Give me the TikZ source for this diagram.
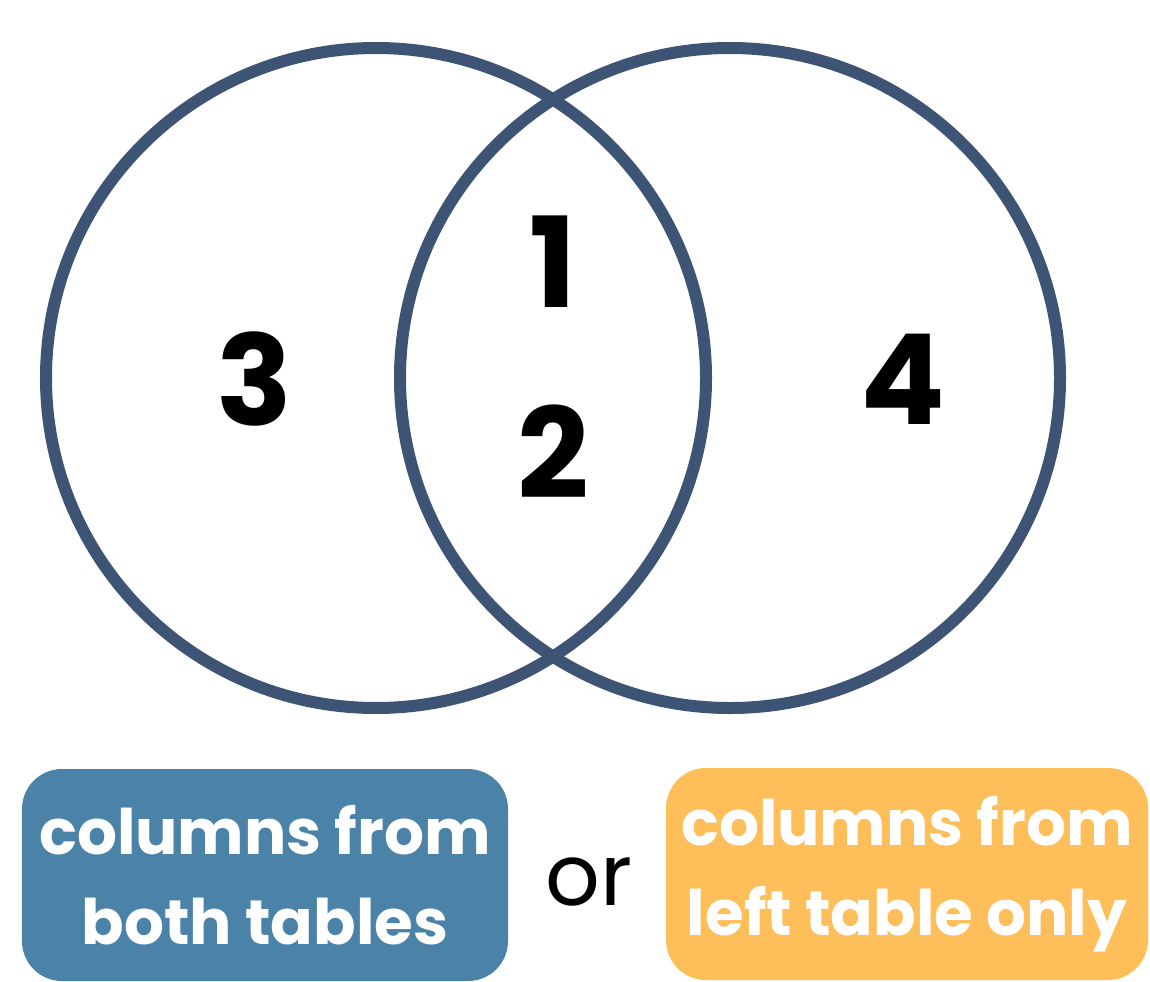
\documentclass[tikz,border=0pt]{standalone}
\usepackage{fontspec}
\setmainfont{Poppins}
\definecolor{ring}{HTML}{3E5475}
\definecolor{boxblue}{HTML}{4A82A8}
\definecolor{boxgold}{HTML}{FEBE5A}
\begin{document}
\begin{tikzpicture}[x=1bp,y=-1bp,
  ring/.style={draw=ring,line width=12bp},
  digit/.style={font=\fontsize{126}{126}\selectfont\bfseries,text=black,inner sep=0pt},
  label/.style={rounded corners=40bp,minimum width=486bp,minimum height=212bp,text=white,align=center,
    font=\fontsize{63}{90}\selectfont\bfseries,inner sep=0pt}]
\useasboundingbox (0,0) rectangle (1150,982);
\node[ring,circle,minimum size=660bp,inner sep=0pt] (L) at (376,378) {};
\node[ring,circle,minimum size=660bp,inner sep=0pt] (R) at (730,378) {};
\node[digit] (n1) at (553,262) {1};
\node[digit] (n2) at (553,452) {2};
\node[digit] (n3) at (254,379) {3};
\node[digit] (n4) at (903,379) {4};
\node[label,fill=boxblue] (b1) at (265,875) {columns from\\both tables};
\node[label,fill=boxgold,minimum width=482bp] (b2) at (907,874) {columns from\\left table only};
\node[font=\fontsize{86}{86}\selectfont,inner sep=0pt] (or) at (589,882) {or};
\end{tikzpicture}
\end{document}
